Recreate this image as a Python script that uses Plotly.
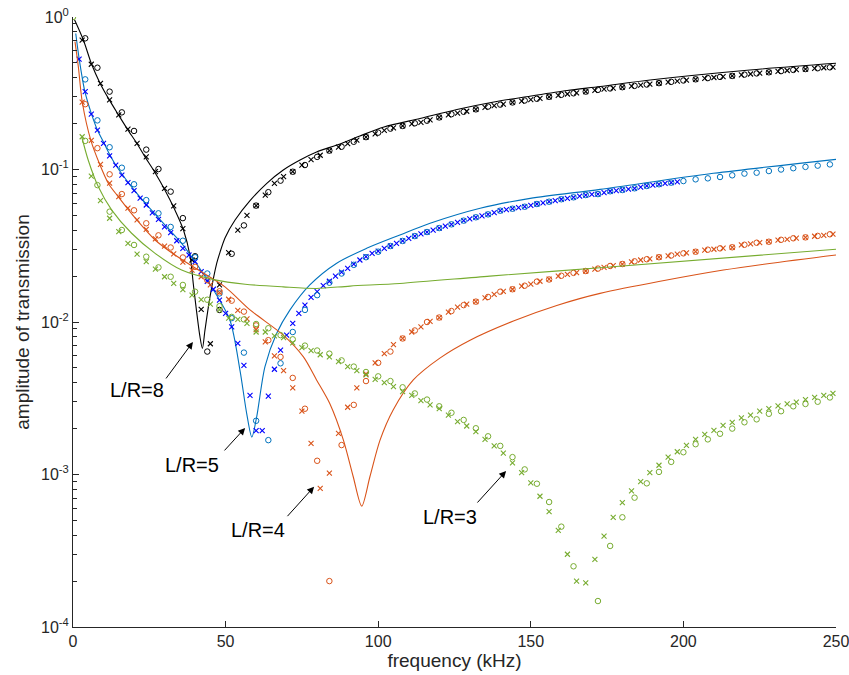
import math
import plotly.graph_objects as go

# ---------------- data ----------------
# theory curves (frequency kHz, amplitude)
black_line_f = [0.5, 3.4, 6.1, 8.9, 11.9, 14.9, 17.8, 20.9, 23.6, 26.7, 30.1, 33.4, 36.2, 38.4, 39.4, 40.3, 41.6, 42.4, 43.25, 44.9, 47.1, 48.2, 49.8, 53.1, 58.0, 63.5, 68.9, 74.4, 79.8, 87.5, 94.0, 101.9, 113.7, 125.8, 137.9, 150.1, 161.9, 172.7, 189.1, 221.8, 250.0]
black_line_a = [0.96, 0.707, 0.49, 0.367, 0.286, 0.228, 0.184, 0.1485, 0.121, 0.0967, 0.0734, 0.0542, 0.0401, 0.0268, 0.0179, 0.0126, 0.0080, 0.0067, 0.00887, 0.01465, 0.0243, 0.0288, 0.0356, 0.0466, 0.0625, 0.0812, 0.0993, 0.1154, 0.1302, 0.147, 0.1659, 0.190, 0.216, 0.2474, 0.2771, 0.3034, 0.3297, 0.350, 0.3862, 0.4493, 0.497]

blue_line_f = [0.9, 2.0, 3.9, 6.1, 8.0, 10.2, 12.1, 14.0, 19.2, 24.7, 30.1, 35.6, 41.1, 45.4, 51.4, 54.7, 56.9, 58.6, 60.2, 62.9, 66.7, 71.1, 77.6, 86.4, 96.2, 107.1, 117.0, 133.4, 149.8, 172.7, 209.8, 250.0]
blue_line_a = [0.78, 0.536, 0.324, 0.23, 0.1815, 0.1485, 0.1245, 0.107, 0.077, 0.057, 0.0433, 0.0328, 0.0231, 0.017, 0.0103, 0.00484, 0.00252, 0.00176, 0.0024, 0.0051, 0.0084, 0.012, 0.0175, 0.0243, 0.0304, 0.0372, 0.0444, 0.0557, 0.0647, 0.0741, 0.0944, 0.1166]

orange_line_f = [0.65, 1.75, 3.05, 5.9, 8.85, 11.6, 14.8, 20.9, 26.9, 33.4, 41.1, 49.8, 58.0, 68.9, 75.5, 79.8, 84.2, 88.6, 91.8, 94.6, 97.3, 100.6, 104.9, 111.5, 120.2, 130.1, 144.3, 158.5, 172.7, 213.1, 250.0]
orange_line_a = [0.689, 0.472, 0.276, 0.154, 0.107, 0.081, 0.0664, 0.0467, 0.0345, 0.0275, 0.0219, 0.017, 0.012, 0.0082, 0.0059, 0.00417, 0.0029, 0.00168, 0.00097, 0.00062, 0.00097, 0.00168, 0.00265, 0.00417, 0.0058, 0.0076, 0.01015, 0.01283, 0.0154, 0.0219, 0.0275]

green_line_f = [2.85, 5.0, 8.3, 12.7, 19.2, 26.9, 35.6, 46.5, 56.4, 68.9, 79.8, 90.8, 107.1, 136.6, 172.7, 250.0]
green_line_a = [0.164, 0.115, 0.077, 0.0542, 0.0382, 0.0282, 0.0219, 0.0189, 0.0177, 0.017, 0.0166, 0.0172, 0.0179, 0.020, 0.0227, 0.030]

# measurement grids (kHz)
f_x3 = list(range(3, 250, 3))      # crosses, 3 kHz step
f_o4 = list(range(4, 250, 4))      # circles, 4 kHz step
f_x2 = list(range(2, 200, 2))      # blue crosses, 2 kHz step
f_o4g = list(range(0, 250, 4))     # green circles incl. 0

black_x = [0.706, 0.49, 0.367, 0.286, 0.228, 0.184, 0.1485, 0.121, 0.0967, 0.0753, 0.0577, 0.041, 0.0255, 0.0121, 0.0072, 0.0175, 0.0285, 0.040, 0.050, 0.058, 0.068, 0.081, 0.0897, 0.0967, 0.107, 0.116, 0.124, 0.133, 0.140, 0.148, 0.156, 0.163, 0.171, 0.1805, 0.1874, 0.193, 0.199, 0.2035, 0.2115, 0.2195, 0.228, 0.2345, 0.241, 0.248, 0.2556, 0.2625, 0.2685, 0.2752, 0.281, 0.2872, 0.2929, 0.2997, 0.3066, 0.3126, 0.318, 0.3242, 0.3305, 0.336, 0.3415, 0.3466, 0.352, 0.357, 0.3625, 0.3684, 0.374, 0.3795, 0.3851, 0.3903, 0.3956, 0.4011, 0.4065, 0.4109, 0.417, 0.4228, 0.4286, 0.4338, 0.4398, 0.4458, 0.4518, 0.4559, 0.46, 0.4648, 0.4691]
black_o = [0.725, 0.465, 0.324, 0.237, 0.179, 0.135, 0.1007, 0.0716, 0.048, 0.027, 0.0064, 0.012, 0.028, 0.043, 0.058, 0.071, 0.0845, 0.0967, 0.107, 0.121, 0.133, 0.141, 0.152, 0.163, 0.1745, 0.1853, 0.193, 0.201, 0.209, 0.2195, 0.2305, 0.239, 0.248, 0.2586, 0.2664, 0.2752, 0.2834, 0.291, 0.2997, 0.3089, 0.316, 0.3242, 0.333, 0.34, 0.3466, 0.3535, 0.3608, 0.3684, 0.3756, 0.3834, 0.3903, 0.3975, 0.4047, 0.4109, 0.419, 0.4267, 0.4338, 0.4418, 0.4498, 0.4559, 0.4614, 0.4677]

blue_x = [0.53, 0.324, 0.231, 0.1815, 0.1485, 0.123, 0.107, 0.092, 0.082, 0.0726, 0.065, 0.0585, 0.052, 0.0471, 0.042, 0.0385, 0.0341, 0.0304, 0.0275, 0.0249, 0.0214, 0.0185, 0.0164, 0.0139, 0.0114, 0.0093, 0.00725, 0.0052, 0.0033, 0.00194, 0.00194, 0.00327, 0.0049, 0.00655, 0.0082, 0.0098, 0.0114, 0.0129, 0.0145, 0.0158, 0.0173, 0.0185, 0.020, 0.0212, 0.0225, 0.024, 0.0255, 0.0268, 0.0282, 0.0292, 0.0304, 0.0315, 0.0328, 0.034, 0.0353, 0.0366, 0.0378, 0.0389, 0.0401, 0.0413, 0.0425, 0.0437, 0.045, 0.0462, 0.0474, 0.0486, 0.0497, 0.0508, 0.0522, 0.0537, 0.0545, 0.0553, 0.0562, 0.057, 0.0582, 0.0594, 0.0605, 0.0615, 0.0626, 0.0638, 0.0647, 0.0657, 0.0668, 0.068, 0.0686, 0.069, 0.0705, 0.072, 0.0727, 0.0734, 0.0743, 0.0753, 0.0766, 0.078, 0.079, 0.080, 0.081, 0.082, 0.083]
blue_o = [0.39, 0.21, 0.14, 0.1027, 0.080, 0.063, 0.0516, 0.042, 0.0341, 0.0266, 0.0208, 0.0154, 0.0106, 0.0063, 0.00225, 0.00168, 0.00536, 0.0086, 0.012, 0.015, 0.0181, 0.0208, 0.0237, 0.0266, 0.0289, 0.0315, 0.034, 0.0366, 0.0389, 0.0413, 0.0437, 0.0462, 0.0486, 0.0508, 0.0537, 0.0553, 0.057, 0.0594, 0.0615, 0.0638, 0.0657, 0.068, 0.069, 0.072, 0.0734, 0.0753, 0.078, 0.080, 0.082, 0.084, 0.0862, 0.0875, 0.0893, 0.0916, 0.094, 0.0953, 0.0977, 0.100, 0.102, 0.104, 0.106, 0.108]

orange_x = [0.277, 0.155, 0.108, 0.0815, 0.0664, 0.0558, 0.0467, 0.0405, 0.0351, 0.0314, 0.028, 0.0247, 0.0219, 0.0198, 0.0175, 0.0156, 0.0141, 0.0119, 0.0105, 0.0089, 0.0074, 0.006, 0.0048, 0.0037, 0.0026, 0.0016, 0.00081, 0.00102, 0.00186, 0.00276, 0.0037, 0.00456, 0.0054, 0.0062, 0.0071, 0.0078, 0.0086, 0.0093, 0.0101, 0.0107, 0.0116, 0.0125, 0.0131, 0.0136, 0.0144, 0.0152, 0.0159, 0.0164, 0.0172, 0.0177, 0.0185, 0.0191, 0.020, 0.0205, 0.0211, 0.0216, 0.0222, 0.0228, 0.0234, 0.024, 0.0248, 0.0255, 0.0259, 0.0266, 0.0271, 0.0279, 0.0284, 0.0289, 0.0296, 0.030, 0.0305, 0.0309, 0.032, 0.0325, 0.0332, 0.0336, 0.0344, 0.0348, 0.0355, 0.0359, 0.0365, 0.037, 0.0377]
orange_o = [0.268, 0.138, 0.093, 0.069, 0.054, 0.0444, 0.037, 0.0308, 0.0265, 0.023, 0.0188, 0.0159, 0.0138, 0.0117, 0.0095, 0.0076, 0.0059, 0.0043, 0.0027, 0.00123, 0.0002, 0.00156, 0.00286, 0.0041, 0.0054, 0.0064, 0.0078, 0.0088, 0.010, 0.0107, 0.0118, 0.0129, 0.0136, 0.0146, 0.0158, 0.0164, 0.0173, 0.0184, 0.019, 0.0201, 0.021, 0.0216, 0.0224, 0.0233, 0.024, 0.025, 0.0258, 0.0266, 0.0273, 0.0282, 0.0289, 0.0298, 0.0304, 0.0309, 0.0321, 0.0331, 0.0336, 0.0346, 0.0354, 0.0359, 0.0367, 0.0376]

green_x = [0.164, 0.0906, 0.0625, 0.0479, 0.0391, 0.0328, 0.0279, 0.0249, 0.0222, 0.0198, 0.0179, 0.0163, 0.015, 0.014, 0.0131, 0.012, 0.0106, 0.0104, 0.0098, 0.0086, 0.0086, 0.0081, 0.0079, 0.0073, 0.0068, 0.0065, 0.0061, 0.0059, 0.0055, 0.0051, 0.0048, 0.0045, 0.0042, 0.0040, 0.00377, 0.0035, 0.0033, 0.00305, 0.00286, 0.0027, 0.00245, 0.00222, 0.00208, 0.00191, 0.0017, 0.00154, 0.00138, 0.00119, 0.00103, 0.00088, 0.00072, 0.00057, 0.00043, 0.0003, 0.0002, 0.000195, 0.000278, 0.000395, 0.000524, 0.000653, 0.00078, 0.000897, 0.00103, 0.00115, 0.0013, 0.00141, 0.00155, 0.0017, 0.00183, 0.00195, 0.0021, 0.0022, 0.00235, 0.00245, 0.0026, 0.0027, 0.00282, 0.0029, 0.00298, 0.0031, 0.0032, 0.0033, 0.0034]
green_o = [1.0, 0.154, 0.079, 0.0529, 0.0401, 0.032, 0.0268, 0.0228, 0.0198, 0.0175, 0.0158, 0.014, 0.0127, 0.0108, 0.0104, 0.0097, 0.0091, 0.0082, 0.0077, 0.007, 0.0065, 0.0062, 0.0056, 0.0051, 0.0047, 0.0044, 0.0041, 0.00373, 0.0034, 0.0031, 0.0028, 0.00254, 0.00228, 0.00201, 0.00178, 0.00154, 0.0013, 0.00108, 0.00087, 0.00066, 0.000455, 0.00025, None, 0.000148, 0.00034, 0.000524, 0.000705, 0.000875, 0.00104, 0.00121, 0.0014, 0.00158, 0.0017, 0.00185, 0.002, 0.0022, 0.0023, 0.0025, 0.0026, 0.0028, 0.0029, 0.003, 0.0032]

x_ticks = [0, 50, 100, 150, 200, 250]
y_ticks = [1e-4, 1e-3, 1e-2, 1e-1, 1]
y_ticktext = ["10<sup>-4</sup>", "10<sup>-3</sup>", "10<sup>-2</sup>", "10<sup>-1</sup>", "10<sup>0</sup>"]

labels = ["L/R=8", "L/R=5", "L/R=4", "L/R=3"]
label_pos_f = [21.0, 39.0, 60.6, 123.5]
label_pos_a = [0.00358, 0.00115, 0.000433, 0.000526]
arrow_head_f = [39.3, 56.4, 79.0, 141.9]
arrow_head_a = [0.0074, 0.00202, 0.000832, 0.001054]

# ---------------- styles ----------------
BLACK = "#000000"
BLUE_L = "#0072BD"
BLUE_X = "#0000FF"
ORANGE = "#D95319"
GREEN = "#77AC30"
AX = "#262626"
FONT = "Liberation Sans, Arial, sans-serif"

fig = go.Figure()

def add_series(lf, la, lcol, xf, xa, xcol, of, oa, ocol):
    fig.add_trace(go.Scatter(x=lf, y=la, mode="lines",
                             line=dict(color=lcol, width=1.1, shape="spline", smoothing=0.8),
                             showlegend=False, hoverinfo="skip"))
    fig.add_trace(go.Scatter(x=xf, y=xa, mode="markers", showlegend=False,
                             marker=dict(symbol="x-thin-open", size=5, color=xcol,
                                         line=dict(color=xcol, width=1.1))))
    fig.add_trace(go.Scatter(x=of, y=oa, mode="markers", showlegend=False,
                             marker=dict(symbol="circle-open", size=5.5, color=ocol,
                                         line=dict(color=ocol, width=1))))

add_series(black_line_f, black_line_a, BLACK, f_x3, black_x, BLACK, f_o4, black_o, BLACK)
add_series(blue_line_f, blue_line_a, BLUE_L, f_x2, blue_x, BLUE_X, f_o4, blue_o, BLUE_L)
add_series(orange_line_f, orange_line_a, ORANGE, f_x3, orange_x, ORANGE, f_o4, orange_o, ORANGE)
add_series(green_line_f, green_line_a, GREEN, f_x3, green_x, GREEN, f_o4g, green_o, GREEN)

# annotations: arrows + labels
arrow_tail_off = [(-28, 38), (-22, 24), (-28, 31), (-30, 33)]
for i in range(len(labels)):
    fig.add_annotation(x=arrow_head_f[i], y=math.log10(arrow_head_a[i]),
                       xref="x", yref="y", text="", showarrow=True,
                       ax=arrow_tail_off[i][0], ay=arrow_tail_off[i][1],
                       arrowhead=2, arrowsize=1.4, arrowwidth=1, arrowcolor="#000000")
    fig.add_annotation(x=label_pos_f[i], y=math.log10(label_pos_a[i]),
                       xref="x", yref="y", text=labels[i], showarrow=False,
                       font=dict(family=FONT, size=20, color="#000000"))

minor_vals = [m * 10.0 ** e for e in range(-4, 0) for m in range(2, 10)]

fig.update_layout(
    width=849, height=675,
    margin=dict(l=73, r=13, t=17, b=48),
    paper_bgcolor="white", plot_bgcolor="white",
    font=dict(family=FONT, size=16, color=AX),
    showlegend=False,
)
fig.update_xaxes(
    range=[0, 250], tickvals=x_ticks, ticks="inside", ticklen=6, tickcolor=AX,
    showline=True, linecolor=AX, linewidth=1, showgrid=False, zeroline=False,
    mirror=False, automargin=False, ticklabeloverflow="allow",
    title=dict(text="frequency (kHz)", font=dict(size=19, color=AX), standoff=4),
    tickfont=dict(size=16, color=AX),
)
fig.update_yaxes(
    type="log", range=[-4, 0], tickvals=y_ticks, ticktext=y_ticktext,
    ticks="inside", ticklen=6, tickcolor=AX,
    minor=dict(tickvals=minor_vals, ticks="inside", ticklen=3.5, tickcolor=AX, showgrid=False),
    showline=True, linecolor=AX, linewidth=1, showgrid=False, zeroline=False,
    mirror=False, automargin=False, ticklabeloverflow="allow",
    title=dict(text="amplitude of transmission", font=dict(size=19, color=AX), standoff=6),
    tickfont=dict(size=16, color=AX),
)

# remove the browser's default 8px body margin so the 849x675 figure fills the window
fig.write_html("out.html",
               config={"displayModeBar": False},
               post_script="document.body.style.margin='0';document.body.style.overflow='hidden';")
